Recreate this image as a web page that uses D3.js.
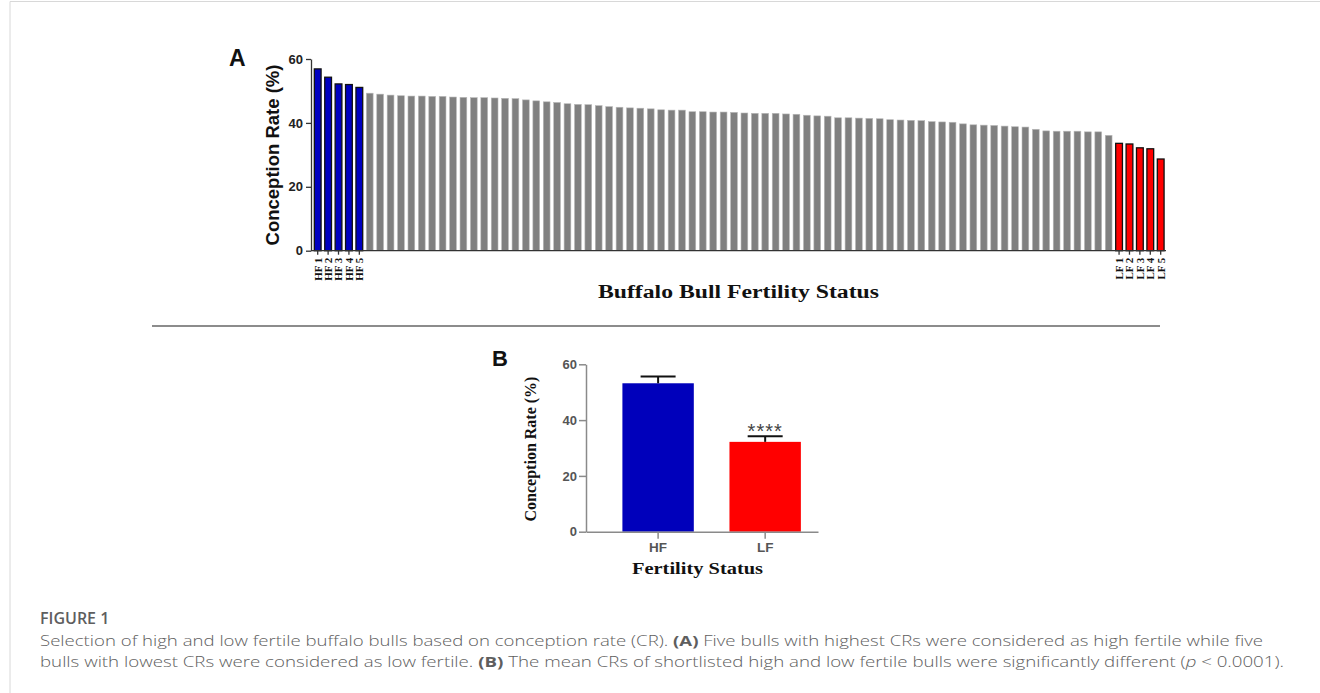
<!DOCTYPE html>
<html>
<head>
<meta charset="utf-8">
<script src="https://cdn.jsdelivr.net/npm/d3@7"></script>
<style>
  body { margin: 0; background: #fff; }
  svg { display: block; }
  .axisA path, .axisA line { stroke: #333; stroke-width: 1.3; }
  .axisB path, .axisB line { stroke: #8a8a8a; stroke-width: 1.5; }
</style>
</head>
<body>
<svg width="1320" height="693"></svg>
<script>
// panel A: conception rate of every bull, sorted
var hfLabels = ["HF 1", "HF 2", "HF 3", "HF 4", "HF 5"];
var hfRates = [56.9, 54.3, 52.2, 52.0, 51.1];
var otherRates = [
  49.3, 49.0, 48.7, 48.5, 48.4, 48.4, 48.3, 48.3, 48.1, 48.0,
  47.9, 47.9, 47.8, 47.7, 47.6, 47.2, 46.9, 46.6, 46.4, 46.0,
  45.8, 45.7, 45.4, 45.1, 44.9, 44.7, 44.6, 44.4, 44.1, 44.0,
  44.0, 43.5, 43.5, 43.4, 43.4, 43.3, 43.1, 43.0, 43.0, 43.0,
  42.8, 42.7, 42.4, 42.2, 42.1, 41.6, 41.6, 41.5, 41.4, 41.3,
  41.0, 40.9, 40.8, 40.7, 40.4, 40.3, 40.2, 39.7, 39.4, 39.3,
  39.2, 39.0, 38.8, 38.7, 38.0, 37.5, 37.4, 37.4, 37.4, 37.2,
  37.2, 36.1
];
var lfLabels = ["LF 1", "LF 2", "LF 3", "LF 4", "LF 5"];
var lfRates = [33.6, 33.4, 32.2, 31.9, 28.7];
var yTicks = [0, 20, 40, 60];

// panel B: group means with upper SD
var groups = ["HF", "LF"];
var groupMeans = [53.2, 32.2];
var groupErr = [2.4, 2.0];
var groupSig = ["", "****"];

var svg = d3.select("svg");
svg.append("rect").attr("width", 1320).attr("height", 693).attr("fill", "#fff");

// page frame
svg.append("path").attr("d", "M10,693V1.5H1320").attr("fill", "none")
  .attr("stroke", "#d8d8d8").attr("stroke-width", 1);

// ---------- panel A ----------
var otherIds = otherRates.map(function(d, i) { return "bull" + (i + 6); });
var idsA = hfLabels.concat(otherIds, lfLabels);
var ratesA = hfRates.concat(otherRates, lfRates);
var dataA = idsA.map(function(id, i) {
  var kind = i < hfLabels.length ? "hf" : (i >= idsA.length - lfLabels.length ? "lf" : "mid");
  return { id: id, value: ratesA[i], kind: kind };
});

var xA = d3.scaleBand().domain(idsA).range([312.5, 1165.9]).paddingInner(0.35).paddingOuter(0.175);
var yA = d3.scaleLinear().domain([0, 60]).range([250.7, 59]);

var gA = svg.append("g");

gA.selectAll("rect.bar")
  .data(dataA)
  .enter().append("rect")
  .attr("class", "bar")
  .attr("x", function(d) { return xA(d.id); })
  .attr("width", xA.bandwidth())
  .attr("y", function(d) { return yA(d.value); })
  .attr("height", function(d) { return yA(0) - yA(d.value); })
  .attr("fill", function(d) { return d.kind == "hf" ? "#0000c0" : d.kind == "lf" ? "#ff0000" : "#808080"; })
  .attr("stroke", function(d) { return d.kind == "mid" ? "#b8b8b8" : "#111"; })
  .attr("stroke-width", function(d) { return d.kind == "mid" ? 0.6 : 1.3; });

var yAxisA = gA.append("g")
  .attr("class", "axisA")
  .attr("transform", "translate(311,0)")
  .call(d3.axisLeft(yA).tickValues(yTicks).tickSize(5).tickSizeOuter(0));
yAxisA.selectAll("text")
  .style("font", "bold 13px 'Liberation Sans'").attr("fill", "#222");

var xAxisA = gA.append("g")
  .attr("class", "axisA")
  .attr("transform", "translate(0," + yA(0) + ")")
  .call(d3.axisBottom(xA).tickValues(hfLabels.concat(lfLabels)).tickSize(4).tickSizeOuter(0));
xAxisA.select(".domain").attr("d", "M311,0H1166");
xAxisA.selectAll("text")
  .attr("transform", "rotate(-90)")
  .attr("x", -7).attr("y", 0).attr("dy", "0.35em")
  .style("text-anchor", "end")
  .style("font", "bold 11px 'Liberation Serif'").attr("fill", "#111");

gA.append("text")
  .attr("transform", "translate(278.5,155) rotate(-90)")
  .attr("text-anchor", "middle")
  .style("font", "bold 18.5px 'Liberation Sans'").attr("fill", "#111")
  .text("Conception Rate (%)");

gA.append("text")
  .attr("x", 598).attr("y", 298)
  .attr("textLength", 281).attr("lengthAdjust", "spacingAndGlyphs")
  .style("font", "bold 18px 'Liberation Serif'").attr("fill", "#111")
  .text("Buffalo Bull Fertility Status");

gA.append("text")
  .attr("x", 229).attr("y", 66)
  .style("font", "bold 23px 'Liberation Sans'").attr("fill", "#111")
  .text("A");

// separator
svg.append("line").attr("x1", 152).attr("x2", 1160).attr("y1", 326).attr("y2", 326)
  .attr("stroke", "#666").attr("stroke-width", 1.5);

// ---------- panel B ----------
var dataB = groups.map(function(g, i) {
  return { id: g, value: groupMeans[i], err: groupErr[i], sig: groupSig[i] };
});

var xB = d3.scaleBand().domain(groups).range([586, 818]).paddingInner(0.333).paddingOuter(0.25).align(0.68);
var yB = d3.scaleLinear().domain([0, 60]).range([531.7, 364.3]);
var colorB = d3.scaleOrdinal().domain(groups).range(["#0000bb", "#ff0000"]);

var gB = svg.append("g");

gB.selectAll("rect.bar")
  .data(dataB)
  .enter().append("rect")
  .attr("class", "bar")
  .attr("x", function(d) { return xB(d.id); })
  .attr("width", xB.bandwidth())
  .attr("y", function(d) { return yB(d.value); })
  .attr("height", function(d) { return yB(0) - yB(d.value); })
  .attr("fill", function(d) { return colorB(d.id); });

var err = gB.selectAll("g.err")
  .data(dataB)
  .enter().append("g")
  .attr("class", "err")
  .attr("transform", function(d) { return "translate(" + (xB(d.id) + xB.bandwidth() / 2) + ",0)"; });
err.append("line")
  .attr("y1", function(d) { return yB(d.value); })
  .attr("y2", function(d) { return yB(d.value + d.err); })
  .attr("stroke", "#111").attr("stroke-width", 2);
err.append("line")
  .attr("x1", -17.5).attr("x2", 17.5)
  .attr("y1", function(d) { return yB(d.value + d.err); })
  .attr("y2", function(d) { return yB(d.value + d.err); })
  .attr("stroke", "#111").attr("stroke-width", 2);
err.append("text")
  .attr("y", function(d) { return yB(d.value + d.err) + 2; })
  .attr("text-anchor", "middle")
  .attr("letter-spacing", 1)
  .style("font", "20px 'Liberation Sans'").attr("fill", "#444")
  .text(function(d) { return d.sig; });

var yAxisB = gB.append("g")
  .attr("class", "axisB")
  .attr("transform", "translate(586,0)")
  .call(d3.axisLeft(yB).tickValues(yTicks).tickSize(7).tickSizeOuter(0));
yAxisB.selectAll("text")
  .attr("x", -9)
  .style("font", "bold 13px 'Liberation Sans'").attr("fill", "#555");

var xAxisB = gB.append("g")
  .attr("class", "axisB")
  .attr("transform", "translate(0," + yB(0) + ")")
  .call(d3.axisBottom(xB).tickSize(7).tickSizeOuter(0));
xAxisB.selectAll("text")
  .attr("y", 11)
  .style("font", "bold 13.5px 'Liberation Sans'").attr("fill", "#555");

gB.append("text")
  .attr("transform", "translate(536,449) rotate(-90)")
  .attr("text-anchor", "middle")
  .style("font", "bold 16px 'Liberation Serif'").attr("fill", "#111")
  .text("Conception Rate (%)");

gB.append("text")
  .attr("x", 632).attr("y", 574)
  .attr("textLength", 131).attr("lengthAdjust", "spacingAndGlyphs")
  .style("font", "bold 16.5px 'Liberation Serif'").attr("fill", "#111")
  .text("Fertility Status");

gB.append("text")
  .attr("x", 492).attr("y", 366)
  .style("font", "bold 22px 'Liberation Sans'").attr("fill", "#111")
  .text("B");

// ---------- caption ----------
var cap = svg.append("g").style("font-family", "'Open Sans'").attr("fill", "#5e5e5e");

cap.append("text")
  .attr("x", 40).attr("y", 624)
  .style("font-size", "16px").style("font-weight", 600)
  .text("FIGURE 1");

var line1 = cap.append("text")
  .attr("x", 40).attr("y", 646)
  .attr("textLength", 1223).attr("lengthAdjust", "spacingAndGlyphs")
  .style("font-size", "15px").style("font-weight", 300);
line1.append("tspan").text("Selection of high and low fertile buffalo bulls based on conception rate (CR). ");
line1.append("tspan").style("font-weight", 700).text("(A)");
line1.append("tspan").text(" Five bulls with highest CRs were considered as high fertile while five");

var line2 = cap.append("text")
  .attr("x", 40).attr("y", 667)
  .attr("textLength", 1244).attr("lengthAdjust", "spacingAndGlyphs")
  .style("font-size", "15px").style("font-weight", 300);
line2.append("tspan").text("bulls with lowest CRs were considered as low fertile. ");
line2.append("tspan").style("font-weight", 700).text("(B)");
line2.append("tspan").text(" The mean CRs of shortlisted high and low fertile bulls were significantly different (");
line2.append("tspan").style("font-style", "italic").text("p");
line2.append("tspan").text(" < 0.0001).");
</script>
</body>
</html>
